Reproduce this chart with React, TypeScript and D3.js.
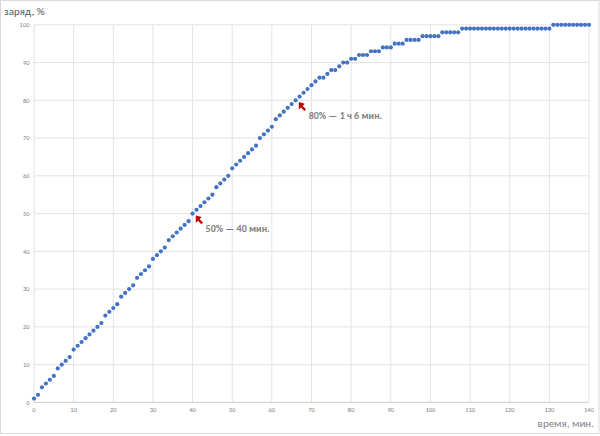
import React from "react";
import * as d3 from "d3";

const minutes: number[] = Array.from({ length: 141 }, (_, i) => i);
const charge: number[] = [
  1, 2, 4, 5, 6, 7, 9, 10, 11, 12,
  14, 15, 16, 17, 18, 19, 20, 21, 23, 24,
  25, 26, 28, 29, 30, 31, 33, 34, 35, 36,
  38, 39, 40, 41, 43, 44, 45, 46, 47, 48,
  50, 51, 52, 53, 54, 55, 57, 58, 59, 60,
  62, 63, 64, 65, 66, 67, 68, 70, 71, 72,
  73, 75, 76, 77, 78, 79, 80, 81, 82, 83,
  84, 85, 86, 86, 87, 88, 88, 89, 90, 90,
  91, 91, 92, 92, 92, 93, 93, 93, 94, 94,
  94, 95, 95, 95, 96, 96, 96, 96, 97, 97,
  97, 97, 97, 98, 98, 98, 98, 98, 99, 99,
  99, 99, 99, 99, 99, 99, 99, 99, 99, 99,
  99, 99, 99, 99, 99, 99, 99, 99, 99, 99,
  99, 100, 100, 100, 100, 100, 100, 100, 100, 100,
  100,
];
const xTicks: number[] = [0, 10, 20, 30, 40, 50, 60, 70, 80, 90, 100, 110, 120, 130, 140];
const yTicks: number[] = [0, 10, 20, 30, 40, 50, 60, 70, 80, 90, 100];
const annotations = [
  { minute: 40, value: 50, label: "50% — 40 мин." },
  { minute: 66, value: 80, label: "80% — 1 ч 6 мин." },
];
const yTitle = "заряд, %";
const xTitle = "время, мин.";

const W = 600;
const H = 436;
const FONT = 'Carlito, "Liberation Sans", Arial, sans-serif';

export default function App() {
  const x = d3.scaleLinear().domain([0, 140]).range([34, 589]);
  const y = d3.scaleLinear().domain([0, 100]).range([402.4, 24.8]);
  const arrowPath = "M0,0 L0,7.5 L2.2,5.4 L5.6,8.8 L7.2,7.2 L3.8,3.8 L5.9,1.6 Z";

  return (
    <svg
      width={W}
      height={H}
      style={{ position: "absolute", left: 0, top: 0, background: "#fff" }}
      fontFamily={FONT}
    >
      <rect x={0.5} y={0.5} width={598.5} height={433} fill="#fff" stroke="#d9d9d9" />
      {xTicks.map((t) => (
        <line key={"gx" + t} x1={x(t)} x2={x(t)} y1={y(0)} y2={y(100)} stroke="#e3e3e3" strokeWidth={1} />
      ))}
      {yTicks.map((t) => (
        <line key={"gy" + t} x1={x(0)} x2={x(140)} y1={y(t)} y2={y(t)} stroke="#e3e3e3" strokeWidth={1} />
      ))}
      <line x1={x(0)} x2={x(140)} y1={y(0)} y2={y(0)} stroke="#d0d0d0" />
      {yTicks.map((t) => (
        <text key={"ty" + t} x={29.5} y={y(t)} dy="0.35em" textAnchor="end" fontSize={6.5} fill="#7f7f7f">
          {t}
        </text>
      ))}
      {xTicks.map((t) => (
        <text key={"tx" + t} x={x(t)} y={410} dy="0.35em" textAnchor="middle" fontSize={6.5} fill="#7f7f7f">
          {t}
        </text>
      ))}
      <text x={4} y={15} fontSize={11} fill="#595959">{yTitle}</text>
      <text x={594} y={427} fontSize={11} textAnchor="end" fill="#7f7f7f">{xTitle}</text>
      {charge.map((v, i) => (
        <circle key={"p" + i} cx={x(minutes[i])} cy={y(v)} r={2.1} fill="#4472c4" />
      ))}
      {annotations.map((a) => (
        <g key={a.label}>
          <path
            d={arrowPath}
            transform={`translate(${x(a.minute) + 3.2},${y(a.value) + 1.8})`}
            fill="#c00000"
          />
          <text
            x={x(a.minute) + 13}
            y={y(a.value) + 15}
            dy="0.35em"
            fontSize={10}
            fontWeight="bold"
            fill="#7f7f7f"
          >
            {a.label}
          </text>
        </g>
      ))}
    </svg>
  );
}
